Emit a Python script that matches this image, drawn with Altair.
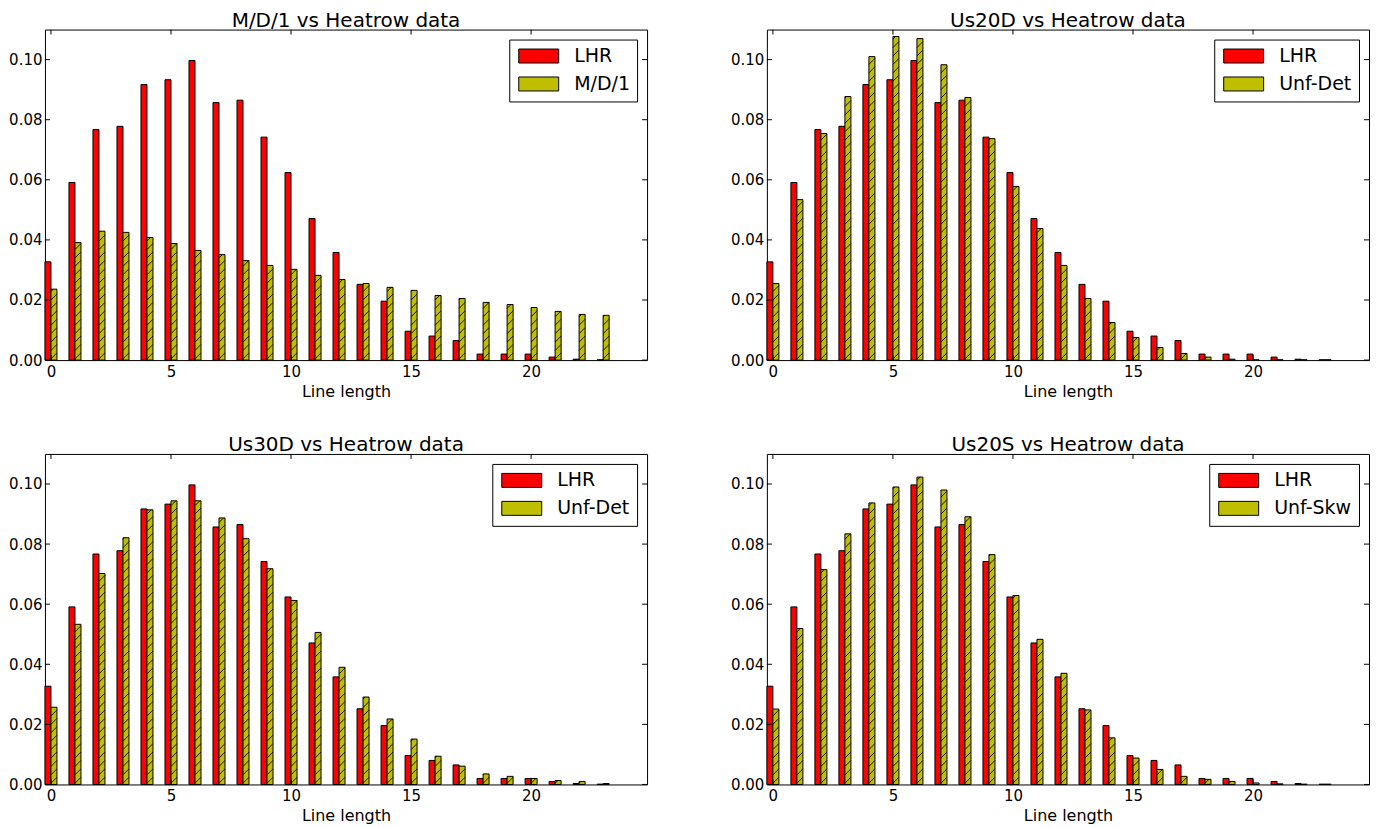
import altair as alt
import pandas as pd

# ---------------- data ----------------
lengths = list(range(24))
lhr = [0.0327, 0.0591, 0.0767, 0.0778, 0.0917, 0.0933, 0.0997, 0.0857, 0.0865, 0.0742,
       0.0624, 0.0471, 0.0358, 0.0252, 0.0196, 0.0096, 0.0080, 0.0065, 0.0020, 0.0020,
       0.0020, 0.0010, 0.0003, 0.0001]
md1 = [0.0236, 0.0391, 0.0429, 0.0425, 0.0408, 0.0388, 0.0365, 0.0351, 0.0331, 0.0315,
       0.0302, 0.0282, 0.0268, 0.0255, 0.0242, 0.0232, 0.0215, 0.0205, 0.0192, 0.0185,
       0.0175, 0.0162, 0.0152, 0.0149]
us20d = [0.0255, 0.0534, 0.0754, 0.0877, 0.1010, 0.1077, 0.1070, 0.0983, 0.0874, 0.0737,
         0.0578, 0.0438, 0.0315, 0.0205, 0.0125, 0.0075, 0.0042, 0.0022, 0.0010, 0.0003,
         0.0001, 0.0001, 0.0001, 0.0001]
us30d = [0.0257, 0.0533, 0.0702, 0.0821, 0.0914, 0.0944, 0.0944, 0.0887, 0.0818, 0.0718,
         0.0612, 0.0506, 0.0390, 0.0291, 0.0218, 0.0151, 0.0094, 0.0061, 0.0035, 0.0027,
         0.0020, 0.0013, 0.0010, 0.0003]
us20s = [0.0251, 0.0519, 0.0715, 0.0834, 0.0937, 0.0990, 0.1023, 0.0980, 0.0891, 0.0765,
         0.0629, 0.0483, 0.0370, 0.0248, 0.0155, 0.0088, 0.0050, 0.0027, 0.0017, 0.0010,
         0.0005, 0.0002, 0.0001, 0.0001]

titles = ["M/D/1 vs Heatrow data", "Us20D vs Heatrow data",
          "Us30D vs Heatrow data", "Us20S vs Heatrow data"]
model_names = ["M/D/1", "Unf-Det", "Unf-Det", "Unf-Skw"]
model_series = [md1, us20d, us30d, us20s]
x_ticks = [0, 5, 10, 15, 20]
y_ticks = [0.0, 0.02, 0.04, 0.06, 0.08, 0.10]
x_title = "Line length"

# ---------------- styling ----------------
W, H = 603, 331
BAR_W = 0.25
XDOM = [-0.25, 24.83]
YDOM = [0, 0.11]
RED = "#ff0000"
OLIVE = "#bfbf00"
FONT = "DejaVu Sans"
HATCH_STEP = 0.0028
HATCH_RISE = 0.002
TICK = 5


def panel(title, model_name, model_vals):
    rows = []
    for n, a, b in zip(lengths, lhr, model_vals):
        rows.append(dict(n=n, series="LHR", value=a, x0=n - BAR_W, x1=n))
        rows.append(dict(n=n, series=model_name, value=b, x0=n, x1=n + BAR_W))
    df = pd.DataFrame(rows)

    xs = alt.Scale(domain=XDOM, nice=False, zero=False)
    ys = alt.Scale(domain=YDOM, nice=False, zero=False)

    bars = alt.Chart(df).mark_bar(stroke="black", strokeWidth=1, opacity=1).encode(
        x=alt.X("x0:Q", scale=xs, title=x_title,
                axis=alt.Axis(values=x_ticks, format="d")),
        x2="x1:Q",
        y=alt.Y("value:Q", scale=ys, title=None,
                axis=alt.Axis(values=y_ticks, format=".2f")),
        y2=alt.datum(0),
        color=alt.Color("series:N",
                        scale=alt.Scale(domain=["LHR", model_name], range=[RED, OLIVE]),
                        legend=alt.Legend(title=None)),
    )

    hatch = alt.Chart(df).transform_filter(
        alt.datum.series == model_name
    ).transform_calculate(
        k=f"sequence(0.0004, datum.value, {HATCH_STEP})"
    ).transform_flatten(["k"]).transform_calculate(
        hy2=f"min(datum.k + {HATCH_RISE}, datum.value)"
    ).transform_calculate(
        hx2=f"datum.x0 + {BAR_W} * (datum.hy2 - datum.k) / {HATCH_RISE}"
    ).mark_rule(color="black", strokeWidth=0.9).encode(
        x=alt.X("x0:Q", scale=xs, title=x_title),
        x2="hx2:Q",
        y=alt.Y("k:Q", scale=ys, title=None),
        y2="hy2:Q",
    )

    xt = pd.DataFrame({"t": x_ticks})
    yt = pd.DataFrame({"t": y_ticks})
    tick_bottom = alt.Chart(xt).mark_rule(color="black", strokeWidth=1).encode(
        x=alt.X("t:Q", scale=xs, title=x_title), y=alt.value(H), y2=alt.value(H - TICK))
    tick_top = alt.Chart(xt).mark_rule(color="black", strokeWidth=1).encode(
        x=alt.X("t:Q", scale=xs, title=x_title), y=alt.value(0), y2=alt.value(TICK))
    tick_left = alt.Chart(yt).mark_rule(color="black", strokeWidth=1).encode(
        y=alt.Y("t:Q", scale=ys, title=None), x=alt.value(0), x2=alt.value(TICK))
    tick_right = alt.Chart(yt).mark_rule(color="black", strokeWidth=1).encode(
        y=alt.Y("t:Q", scale=ys, title=None), x=alt.value(W), x2=alt.value(W - TICK))

    return alt.layer(bars, hatch, tick_bottom, tick_top, tick_left, tick_right).properties(
        width=W, height=H,
        title=alt.TitleParams(title, frame="group"),
    )


panels = [panel(t, m, v) for t, m, v in zip(titles, model_names, model_series)]

row1 = alt.hconcat(panels[0], panels[1], spacing=82).resolve_scale(color="independent").resolve_legend(color="independent")
row2 = alt.hconcat(panels[2], panels[3], spacing=82).resolve_scale(color="independent").resolve_legend(color="independent")

chart = alt.vconcat(row1, row2, spacing=35).resolve_scale(
    color="independent"
).resolve_legend(color="independent").properties(
    padding={"left": 0, "top": 2, "right": 0, "bottom": 0}
).configure(
    font=FONT
).configure_view(
    stroke="black", strokeWidth=1
).configure_axis(
    grid=False, domain=False, ticks=False, tickSize=0,
    labelFont=FONT, labelFontSize=15, labelColor="black", labelFlush=False,
    titleFont=FONT, titleFontSize=16, titleFontWeight="normal", titleColor="black",
).configure_axisX(
    labelPadding=4, titlePadding=4
).configure_axisY(
    labelPadding=3
).configure_title(
    font=FONT, fontSize=20, fontWeight="normal", color="black",
    baseline="top", offset=-2, anchor="middle"
).configure_legend(
    orient="top-right", offset=10, strokeColor="black", fillColor="white",
    padding=7, cornerRadius=0,
    labelFont=FONT, labelFontSize=19, labelColor="black", labelOffset=39,
    symbolType="M-1,-1L4.714,-1L4.714,1L-1,1Z", symbolSize=196,
    symbolStrokeColor="black", symbolStrokeWidth=1, symbolOpacity=1,
    rowPadding=8,
)

chart.save("out.html", embed_options={"renderer": "svg", "actions": False})
